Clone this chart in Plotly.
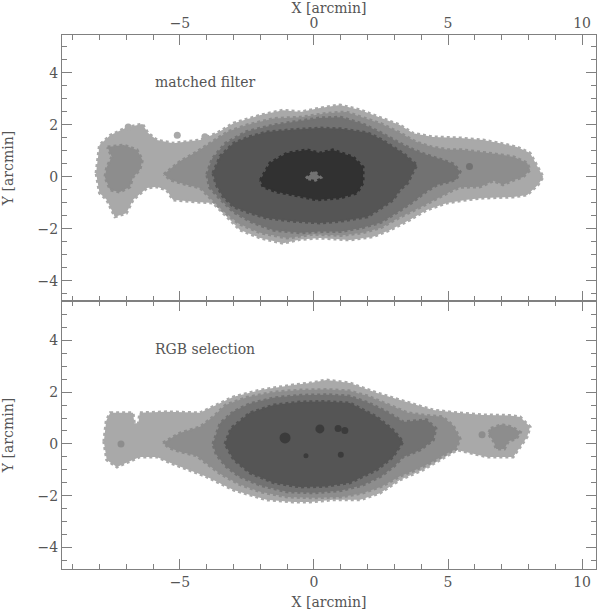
import plotly.graph_objects as go

# ---------------- data (arcmin) ----------------
GRAYS = ["#a9a9a9", "#8d8d8d", "#727272", "#555555", "#313131"]

# matched filter panel: contour level outlines (x, y)
MF_L1 = [(-8.13,0.15),(-8.0,1.23),(-7.6,1.6),(-7.0,1.9),(-6.4,2.04),(-6.2,1.7),(-5.86,1.42),(-5.26,1.3),
         (-4.25,1.42),(-3.6,1.7),(-3.0,2.07),(-2.0,2.38),(-1.15,2.57),(-0.5,2.5),(0.22,2.65),(0.97,2.77),
         (1.72,2.58),(2.46,2.3),(3.2,2.0),(3.7,1.68),(4.44,1.54),(5.45,1.5),(6.3,1.42),(6.94,1.3),(7.57,1.15),
         (8.06,0.92),(8.36,0.38),(8.55,0.0),(8.36,-0.3),(7.95,-0.69),(7.43,-0.77),(6.3,-0.81),(5.7,-0.88),
         (4.96,-1.0),(4.2,-1.27),(3.58,-1.65),(2.84,-2.04),(2.2,-2.3),(1.34,-2.42),(0.22,-2.35),(-0.52,-2.4),
         (-1.15,-2.55),(-2.0,-2.35),(-2.76,-2.04),(-3.25,-1.53),(-3.77,-1.0),(-4.37,-0.96),(-5.26,-0.88),
         (-5.5,-0.5),(-5.86,-0.38),(-6.23,-0.42),(-6.75,-0.88),(-7.0,-1.4),(-7.43,-1.53),(-7.73,-0.88),(-8.0,-0.62)]
MF_L2_BLOB = [(-7.7,1.15),(-7.1,1.23),(-6.6,1.04),(-6.4,0.65),(-6.5,0.27),(-6.75,0.0),(-6.87,-0.38),
              (-7.24,-0.58),(-7.6,-0.5),(-7.8,0.0),(-7.73,0.38),(-7.54,0.77)]
MF_L2 = [(-5.6,0.1),(-5.0,0.6),(-4.4,0.95),(-3.8,1.35),(-3.2,1.75),(-2.5,2.0),(-1.5,2.25),(-0.5,2.3),
         (0.5,2.45),(1.2,2.5),(1.8,2.3),(2.5,2.05),(3.2,1.7),(3.8,1.35),(4.4,1.15),(5.0,1.05),(5.5,1.05),
         (6.2,0.96),(7.0,0.85),(7.45,0.77),(7.95,0.54),(8.06,0.27),(7.8,0.0),(7.45,-0.12),(7.05,-0.3),
         (6.7,-0.15),(6.2,-0.38),(5.45,-0.4),(5.2,-0.5),(4.7,-0.77),(4.0,-1.15),(3.2,-1.55),(2.5,-1.95),
         (1.8,-2.15),(1.0,-2.25),(0.0,-2.2),(-1.0,-2.35),(-2.0,-2.15),(-2.8,-1.8),(-3.4,-1.3),(-3.9,-0.8),
         (-4.25,-0.42),(-4.75,-0.3),(-5.35,-0.12)]
MF_L3 = [(-4.0,0.1),(-3.8,0.7),(-3.3,1.3),(-2.5,1.75),(-1.5,2.0),(-0.5,2.15),(0.2,2.27),(1.0,2.3),
         (1.8,2.05),(2.5,1.7),(3.2,1.3),(3.7,1.05),(4.2,0.85),(4.8,0.65),(5.2,0.5),(5.45,0.2),(5.3,-0.1),
         (5.0,-0.2),(4.6,-0.3),(4.2,-0.55),(3.7,-0.95),(3.2,-1.3),(2.5,-1.75),(1.8,-1.95),(1.0,-2.1),
         (0.2,-2.1),(-0.5,-2.15),(-1.5,-2.05),(-2.3,-1.75),(-3.0,-1.35),(-3.5,-0.85),(-3.9,-0.4)]
MF_L4 = [(-3.77,0.15),(-3.5,0.8),(-3.0,1.3),(-2.4,1.55),(-1.77,1.73),(-0.8,1.82),(0.22,1.88),(1.0,1.85),
         (2.0,1.7),(2.5,1.45),(2.96,1.15),(3.4,0.85),(3.7,0.58),(3.84,0.46),(3.7,0.2),(3.5,-0.23),
         (3.2,-0.5),(2.96,-0.88),(2.5,-1.2),(2.0,-1.53),(1.0,-1.7),(0.22,-1.77),(-0.8,-1.7),(-1.77,-1.58),
         (-2.5,-1.35),(-3.0,-1.15),(-3.4,-0.75),(-3.65,-0.3)]
MF_L5 = [(-2.0,-0.12),(-1.64,0.54),(-1.0,0.92),(-0.26,1.04),(0.22,0.92),(0.7,1.04),(1.46,0.77),
         (1.83,0.38),(1.83,-0.23),(1.6,-0.62),(0.97,-0.81),(0.1,-0.88),(-0.78,-0.69),(-1.38,-0.58),(-1.9,-0.38)]
MF_HOLE = [(-0.3,-0.05),(0.0,0.22),(0.25,-0.02),(0.05,-0.12)]
MF_DOTS_L1 = [(-6.93,1.92),(-5.1,1.6),(-4.07,1.55)]
MF_DOTS_L3 = [(5.8,0.4)]

# RGB selection panel
RGB_L1 = [(-7.84,0.08),(-7.75,0.9),(-7.6,1.2),(-6.75,1.2),(-6.7,0.8),(-6.55,0.8),(-6.5,1.2),(-5.5,1.24),
          (-4.25,1.2),(-3.77,1.43),(-3.0,1.82),(-2.0,2.08),(-0.78,2.28),(-0.15,2.35),(0.47,2.47),(1.34,2.35),
          (2.35,1.97),(3.58,1.58),(4.44,1.31),(5.34,1.2),(6.3,1.12),(7.3,1.1),(7.69,1.04),(8.06,0.66),
          (7.95,0.27),(7.43,-0.5),(6.46,-0.5),(5.34,-0.23),(4.7,-0.62),(4.07,-1.0),(3.2,-1.39),(2.46,-1.9),
          (1.72,-2.16),(0.7,-2.16),(-0.15,-2.24),(-0.78,-2.24),(-1.77,-2.16),(-3.0,-1.78),(-4.0,-1.27),
          (-5.0,-0.89),(-5.37,-0.73),(-5.86,-0.5),(-6.5,-0.5),(-7.0,-0.73),(-7.35,-0.89),(-7.73,-0.62)]
RGB_L2 = [(-5.63,0.04),(-5.0,0.42),(-4.25,0.66),(-3.77,1.04),(-3.3,1.5),(-2.5,1.8),(-1.5,2.0),(-0.5,2.08),
          (0.5,2.1),(1.3,2.05),(2.0,1.85),(2.8,1.5),(3.5,1.2),(4.2,1.1),(4.8,1.05),(5.2,0.7),(5.45,0.2),
          (5.3,-0.2),(4.9,-0.4),(4.4,-0.7),(3.8,-1.0),(3.2,-1.25),(2.5,-1.65),(1.8,-1.9),(1.0,-2.05),
          (0.0,-2.08),(-1.0,-2.05),(-2.0,-1.85),(-2.8,-1.55),(-3.5,-1.15),(-4.0,-0.75),(-4.4,-0.45),
          (-5.0,-0.3),(-5.4,-0.15)]
RGB_L2_BLOB = [(6.6,0.6),(7.0,0.75),(7.4,0.65),(7.7,0.45),(7.55,0.2),(7.25,0.1),(7.1,-0.2),(6.8,-0.2),
               (6.7,0.1),(6.5,0.4)]
RGB_L3 = [(-3.77,0.0),(-3.5,0.8),(-3.0,1.25),(-2.4,1.55),(-1.5,1.78),(-0.5,1.88),(0.5,1.9),(1.3,1.85),
          (2.0,1.6),(2.6,1.3),(3.1,1.0),(3.32,0.85),(3.8,0.9),(4.2,0.93),(4.55,0.6),(4.45,0.15),
          (3.96,-0.23),(3.32,-0.5),(3.0,-0.85),(2.5,-1.25),(1.8,-1.6),(1.0,-1.8),(0.0,-1.89),(-1.0,-1.85),
          (-2.0,-1.6),(-2.8,-1.25),(-3.3,-0.85),(-3.65,-0.4)]
RGB_L4 = [(-3.32,0.0),(-3.1,0.6),(-2.39,1.2),(-1.5,1.5),(-0.52,1.62),(0.4,1.64),(1.34,1.58),(2.35,1.04),
          (2.95,0.54),(3.32,0.08),(2.95,-0.5),(2.35,-1.0),(1.34,-1.5),(0.4,-1.64),(-0.52,-1.66),
          (-1.5,-1.5),(-2.39,-1.12),(-3.0,-0.6)]
RGB_DOTS_L2 = [(-7.2,0.0),(6.27,0.35)]
RGB_DOTS_L5 = [(-1.08,0.23),(0.22,0.58),(0.9,0.6),(1.15,0.52),(-0.3,-0.46),(1.0,-0.42)]
RGB_DOTS_L5_SIZE = [11, 9, 7, 7, 5, 6]

TICKS_X = [-5, 0, 5, 10]
TICKS_Y = [-4, -2, 0, 2, 4]
X_RANGE = [-9.4, 10.52]
Y_RANGE_TOP = [-4.77, 5.46]
Y_RANGE_BOT = [-4.83, 5.52]

# ---------------- figure ----------------
fig = go.Figure()

def poly(pts, color, xa, ya):
    xs = [p[0] for p in pts] + [pts[0][0]]
    ys = [p[1] for p in pts] + [pts[0][1]]
    fig.add_trace(go.Scatter(x=xs, y=ys, xaxis=xa, yaxis=ya, mode="lines", fill="toself",
                             fillcolor=color, line=dict(color=color, width=3, dash="dot"),
                             hoverinfo="skip", showlegend=False))

def dots(pts, color, size, xa, ya):
    fig.add_trace(go.Scatter(x=[p[0] for p in pts], y=[p[1] for p in pts], xaxis=xa, yaxis=ya,
                             mode="markers", marker=dict(color=color, size=size, line=dict(width=0)),
                             hoverinfo="skip", showlegend=False))

# top panel (matched filter) -> x2/y2
poly(MF_L1, GRAYS[0], "x2", "y2")
dots(MF_DOTS_L1, GRAYS[0], 7, "x2", "y2")
poly(MF_L2_BLOB, GRAYS[1], "x2", "y2")
poly(MF_L2, GRAYS[1], "x2", "y2")
poly(MF_L3, GRAYS[2], "x2", "y2")
dots(MF_DOTS_L3, GRAYS[2], 7, "x2", "y2")
poly(MF_L4, GRAYS[3], "x2", "y2")
poly(MF_L5, GRAYS[4], "x2", "y2")
poly(MF_HOLE, GRAYS[2], "x2", "y2")

# bottom panel (RGB selection) -> x/y
poly(RGB_L1, GRAYS[0], "x", "y")
poly(RGB_L2, GRAYS[1], "x", "y")
poly(RGB_L2_BLOB, GRAYS[1], "x", "y")
dots(RGB_DOTS_L2, GRAYS[1], 7, "x", "y")
poly(RGB_L3, GRAYS[2], "x", "y")
poly(RGB_L4, GRAYS[3], "x", "y")
dots(RGB_DOTS_L5, GRAYS[4], RGB_DOTS_L5_SIZE, "x", "y")

AX = "#808080"
FONT = dict(family="DejaVu Serif", size=14, color="#555555")
common = dict(showline=True, linecolor=AX, linewidth=1, mirror="allticks", ticks="inside",
              ticklen=10, tickcolor=AX, tickwidth=1, showgrid=False, zeroline=False,
              automargin=False, tickfont=FONT,
              minor=dict(ticks="inside", ticklen=5, tickcolor=AX, showgrid=False))

split = (569 - 301) / 534
fig.update_layout(
    width=600, height=615, plot_bgcolor="white", paper_bgcolor="white",
    margin=dict(l=62, r=4, t=35, b=46),
    xaxis=dict(common, range=X_RANGE, tickvals=TICKS_X, anchor="y", side="bottom",
               minor=dict(common["minor"], dtick=1, tick0=0),
               title=dict(text="X [arcmin]", font=FONT, standoff=8)),
    xaxis2=dict(common, range=X_RANGE, tickvals=TICKS_X, anchor="y2", side="top",
                minor=dict(common["minor"], dtick=1, tick0=0),
                title=dict(text="X [arcmin]", font=FONT, standoff=0)),
    yaxis=dict(common, range=Y_RANGE_BOT, tickvals=TICKS_Y, domain=[0, split], anchor="x",
               minor=dict(common["minor"], dtick=0.5, tick0=0),
               title=dict(text="Y [arcmin]", font=FONT, standoff=20)),
    yaxis2=dict(common, range=Y_RANGE_TOP, tickvals=TICKS_Y, domain=[split, 1], anchor="x2",
                minor=dict(common["minor"], dtick=0.5, tick0=0),
                title=dict(text="Y [arcmin]", font=FONT, standoff=20)),
    annotations=[
        dict(x=-6.0, y=3.65, xref="x2", yref="y2", text="matched filter", showarrow=False,
             xanchor="left", yanchor="middle", font=FONT),
        dict(x=-6.0, y=3.67, xref="x", yref="y", text="RGB selection", showarrow=False,
             xanchor="left", yanchor="middle", font=FONT),
    ],
)

fig.write_html("out.html", config={"displayModeBar": False},
               post_script="document.body.style.margin='0';document.body.style.overflow='hidden';")
